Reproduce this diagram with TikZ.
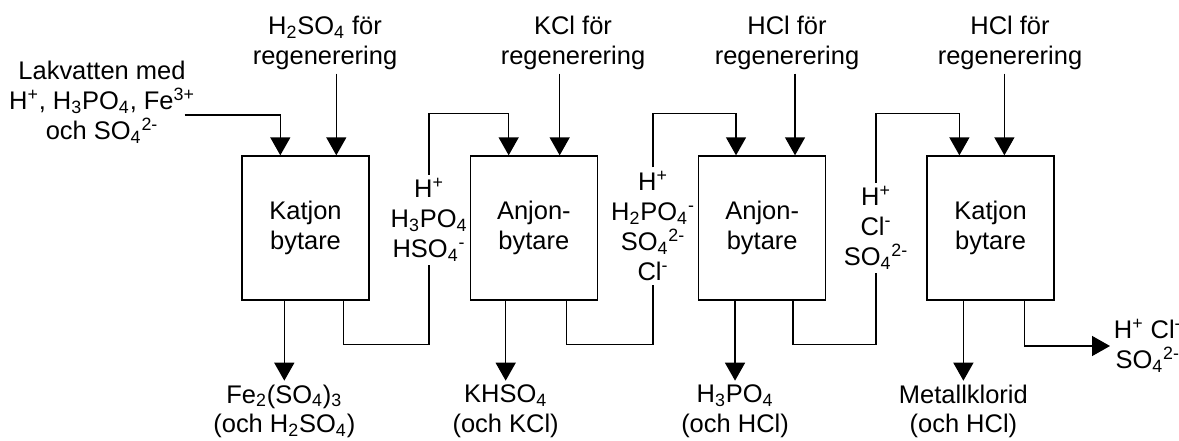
\documentclass[tikz,border=0pt]{standalone}
\usepackage{fontspec}
\setmainfont{Liberation Sans}
\usetikzlibrary{positioning,calc,arrows.meta}

\begin{document}
\begin{tikzpicture}[
  x=0.02cm, y=-0.02cm,
  node distance=2cm,
  font=\fontsize{14.5}{17}\selectfont,
  box/.style={draw, line width=0.8pt, minimum width=2.54cm,
              minimum height=2.88cm, align=center},
  lbl/.style={align=center, inner sep=2pt},
  ln/.style={line width=0.8pt},
  arr/.style={ln, -{Triangle[length=0.36cm,width=0.4cm]}}
]
  \useasboundingbox (0,0) rectangle (1179,440);

  \node[box] (kat1) at (305.5,228) {Katjon\\bytare};
  \node[box, right=of kat1] (anj1) {Anjon-\\bytare};
  \node[box, right=of anj1] (anj2) {Anjon-\\bytare};
  \node[box, right=of anj2] (kat2) {Katjon\\bytare};

  % ports on the boxes
  \coordinate (k1a) at ($(kat1.north west)+(39,0)$);
  \coordinate (k1b) at ($(kat1.north west)+(95,0)$);
  \coordinate (k1o) at ($(kat1.south west)+(43,0)$);
  \coordinate (k1s) at ($(kat1.south west)+(102,0)$);
  \coordinate (a1a) at ($(anj1.north west)+(39,0)$);
  \coordinate (a1b) at ($(anj1.north west)+(90,0)$);
  \coordinate (a1o) at ($(anj1.south west)+(36,0)$);
  \coordinate (a1s) at ($(anj1.south west)+(97,0)$);
  \coordinate (a2a) at ($(anj2.north west)+(38,0)$);
  \coordinate (a2b) at ($(anj2.north west)+(97,0)$);
  \coordinate (a2o) at ($(anj2.south west)+(37,0)$);
  \coordinate (a2s) at ($(anj2.south west)+(95,0)$);
  \coordinate (k2a) at ($(kat2.north west)+(33,0)$);
  \coordinate (k2b) at ($(kat2.north west)+(78,0)$);
  \coordinate (k2o) at ($(kat2.south west)+(37,0)$);
  \coordinate (k2s) at ($(kat2.south west)+(98,0)$);

  \node[lbl] (lak) at (102,102) {Lakvatten med\\H\textsuperscript{+}, H\textsubscript{3}PO\textsubscript{4}, Fe\textsuperscript{3+}\\och SO\textsubscript{4}\textsuperscript{2-}};
  \node[lbl] (sur)  at (325,43)  {H\textsubscript{2}SO\textsubscript{4} för\\regenerering};
  \node[lbl] (kcl)  at (573,43)  {KCl för\\regenerering};
  \node[lbl] (hcl1) at (787,43)  {HCl för\\regenerering};
  \node[lbl] (hcl2) at (1010,43) {HCl för\\regenerering};

  \node[lbl] (mid1) at (429,220) {H\textsuperscript{+}\\H\textsubscript{3}PO\textsubscript{4}\\HSO\textsubscript{4}\textsuperscript{-}};
  \node[lbl] (mid2) at (653,226) {H\textsuperscript{+}\\H\textsubscript{2}PO\textsubscript{4}\textsuperscript{-}\\SO\textsubscript{4}\textsuperscript{2-}\\Cl\textsuperscript{-}};
  \node[lbl] (mid3) at (876,228) {H\textsuperscript{+}\\Cl\textsuperscript{-}\\SO\textsubscript{4}\textsuperscript{2-}};

  \node[lbl, anchor=north] (fes)  at ($(k1o)+(0,80)$) {Fe\textsubscript{2}(SO\textsubscript{4})\textsubscript{3}\\(och H\textsubscript{2}SO\textsubscript{4})};
  \node[lbl, anchor=north] (khs)  at ($(a1o)+(0,80)$) {KHSO\textsubscript{4}\\(och KCl)};
  \node[lbl, anchor=north] (fos)  at ($(a2o)+(0,80)$) {H\textsubscript{3}PO\textsubscript{4}\\(och HCl)};
  \node[lbl, anchor=north] (mkl)  at ($(k2o)+(0,80)$) {Metallklorid\\(och HCl)};
  \node[lbl, anchor=west]  (rest) at (1110,346) {H\textsuperscript{+} Cl\textsuperscript{-}\\SO\textsubscript{4}\textsuperscript{2-}};

  \draw[arr] ($(lak.east)+(-14,13)$) -| (k1a);
  \draw[arr] (sur.south -| k1b)  -- (k1b);
  \draw[arr] (kcl.south -| a1b)  -- (a1b);
  \draw[arr] (hcl1.south -| a2b) -- (a2b);
  \draw[arr] (hcl2.south -| k2b) -- (k2b);

  \draw[ln]  (k1s) -- ++(0,44) -| (mid1.south);
  \draw[arr] (mid1.north) |- ($(a1a)+(0,-42)$) -- (a1a);
  \draw[ln]  (a1s) -- ++(0,44) -| (mid2.south);
  \draw[arr] (mid2.north) |- ($(a2a)+(0,-42)$) -- (a2a);
  \draw[ln]  (a2s) -- ++(0,44) -| (mid3.south);
  \draw[arr] (mid3.north) |- ($(k2a)+(0,-42)$) -- (k2a);

  \draw[arr] (k1o) -- (fes.north);
  \draw[arr] (a1o) -- (khs.north);
  \draw[arr] (a2o) -- (fos.north);
  \draw[arr] (k2o) -- (mkl.north);
  \draw[arr] (k2s) |- (rest.west);
\end{tikzpicture}
\end{document}
